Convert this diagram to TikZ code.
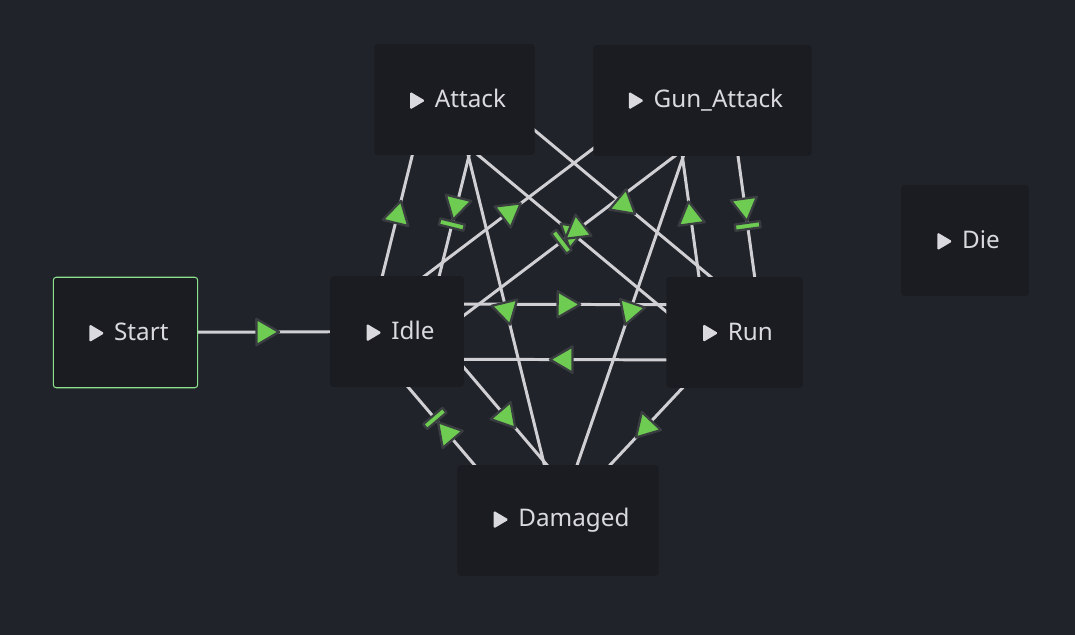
\documentclass[tikz,border=0pt]{standalone}
\usepackage{fontspec}
\setmainfont{Noto Sans}
\usetikzlibrary{calc}
\definecolor{canvas}{RGB}{32,35,42}
\definecolor{panel}{RGB}{26,28,33}
\definecolor{fontgray}{RGB}{218,218,222}
\definecolor{wiregray}{RGB}{208,208,212}
\definecolor{tipgreen}{RGB}{110,204,82}
\definecolor{tipedge}{RGB}{58,61,64}
\definecolor{startedge}{RGB}{140,226,140}
\pgfdeclarelayer{back}
\pgfdeclarelayer{wires}
\pgfsetlayers{back,wires,main}
\newcommand\playicon{\hspace{4pt}\tikz[baseline=1pt]\fill[fontgray,rounded corners=0.9pt] (0,0) -- (0,10.2pt) -- (8.6pt,5.1pt) -- cycle;\hspace{5.5pt}}
% from/to/offset/pos/mark
\def\translist{start/idle/0pt/0.51/arrowmark,
  idle/attack/15.7pt/0.471/arrowmark,
  attack/idle/15.7pt/0.471/endmark,
  idle/gunattack/15.7pt/0.42/arrowmark,
  run/attack/15.7pt/0.5165/arrowmark,
  gunattack/idle/15.7pt/0.4915/endmark,
  attack/run/15.7pt/0.5405/arrowmark,
  gunattack/run/15.7pt/0.5165/endmark,
  run/gunattack/15.7pt/0.5165/arrowmark,
  idle/run/15.7pt/0.498/arrowmark,
  run/idle/15.7pt/0.502/arrowmark,
  idle/damaged/15.7pt/0.5435/arrowmark,
  damaged/idle/15.7pt/0.5965/endmark,
  attack/damaged/0pt/0.5/arrowmark,
  gunattack/damaged/0pt/0.5/arrowmark,
  run/damaged/0pt/0.5/arrowmark}

\begin{document}
\begin{tikzpicture}[x=0.02cm, y=-0.02cm,
    statebox/.style={fill=panel, rounded corners=1.7pt, minimum height=62.9pt, inner sep=0pt,
      text=fontgray, font=\fontsize{13.8}{16}\selectfont},
    wire/.style={draw=wiregray, line width=1.7pt},
    tipface/.style={fill=tipgreen, draw=tipedge, line width=1.3pt, line join=round},
    arrowmark/.pic={\draw[tipface] (8.6pt,0) -- (-4.3pt,7.5pt) -- (-4.3pt,-7.5pt) -- cycle;},
    endmark/.pic={\draw[tipface] (2.6pt,0) -- (-10.3pt,7.5pt) -- (-10.3pt,-7.5pt) -- cycle;
      \draw[tipface] (3.6pt,-7.2pt) rectangle (7.2pt,7.2pt);}]
  %%%%% START %%%%%
  \useasboundingbox (0,0) rectangle (1075,635);
  \begin{pgfonlayer}{back}
    \fill[canvas] (0,0) rectangle (1075,635);
  \end{pgfonlayer}

  \node[statebox, minimum width=82.2pt, draw=startedge, line width=0.6pt] (start) at (125.5,332.5) {\playicon Start};
  \node[statebox, minimum width=76pt] (idle) at (397,331.5) {\playicon Idle};
  \node[statebox, minimum width=91.3pt] (attack) at (454.5,99.5) {\playicon Attack};
  \node[statebox, minimum width=124.2pt] (gunattack) at (702.5,100.5) {\playicon Gun\_Attack};
  \node[statebox, minimum width=72.6pt] (die) at (965,240.5) {\playicon Die};
  \node[statebox, minimum width=77.7pt] (run) at (734.5,332.5) {\playicon Run};
  \node[statebox, minimum width=114.5pt] (damaged) at (558,520.5) {\playicon Damaged};

  \begin{pgfonlayer}{wires}
    \foreach \a/\b/\sh/\p/\k in \translist
      \draw[wire] ($(\a.center)!\sh!90:(\b.center)$) -- ($(\b.center)!\sh!-90:(\a.center)$);
    \foreach \a/\b/\sh/\p/\k in \translist
      \path ($(\a.center)!\sh!90:(\b.center)$) -- ($(\b.center)!\sh!-90:(\a.center)$)
        pic[pos=\p, sloped, allow upside down] {\k};
  \end{pgfonlayer}
  %%%%% END %%%%%
\end{tikzpicture}
\end{document}
